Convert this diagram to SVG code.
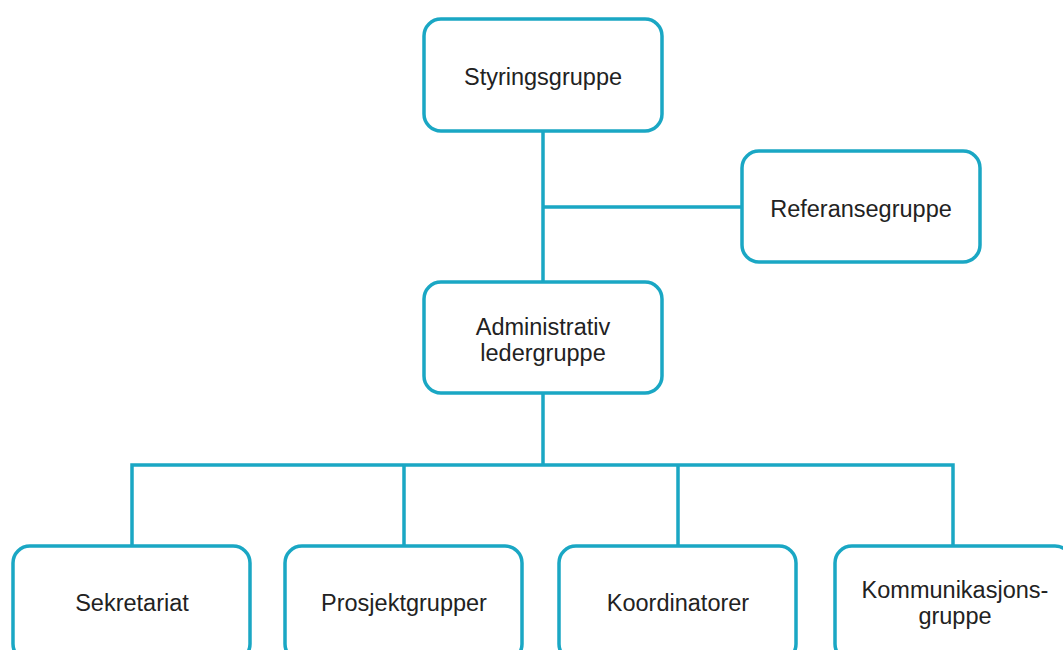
<svg xmlns="http://www.w3.org/2000/svg" width="1063" height="650" viewBox="0 0 1063 650">
<style>
.box{fill:#fff;stroke:#1aa7c4;stroke-width:3.5}
.ln{fill:none;stroke:#1aa7c4;stroke-width:3.5}
.t{font-family:"Liberation Sans",Arial,sans-serif;font-size:23.5px;fill:#222;text-anchor:middle}
</style>
<rect width="1063" height="650" fill="#fff"/>
<g id="connectors">
<path class="ln" d="M543 131V281M543 207H741M543 393V465M132 546V465H953V546M404 465V546M678 465V546"/>
</g>
<g id="styringsgruppe">
<rect class="box" x="424" y="19" width="238" height="112" rx="17"/>
<text class="t" x="543" y="85">Styringsgruppe</text>
</g>
<g id="referansegruppe">
<rect class="box" x="742" y="151" width="238" height="111" rx="17"/>
<text class="t" x="861" y="217">Referansegruppe</text>
</g>
<g id="administrativ">
<rect class="box" x="424" y="282" width="238" height="111" rx="17"/>
<text class="t" x="543" y="335">Administrativ</text>
<text class="t" x="543" y="361">ledergruppe</text>
</g>
<g id="sekretariat">
<rect class="box" x="13" y="546" width="237" height="115" rx="17"/>
<text class="t" x="132" y="611">Sekretariat</text>
</g>
<g id="prosjektgrupper">
<rect class="box" x="285" y="546" width="237" height="115" rx="17"/>
<text class="t" x="404" y="611">Prosjektgrupper</text>
</g>
<g id="koordinatorer">
<rect class="box" x="559" y="546" width="237" height="115" rx="17"/>
<text class="t" x="678" y="611">Koordinatorer</text>
</g>
<g id="kommunikasjonsgruppe">
<rect class="box" x="835" y="546" width="237" height="115" rx="17"/>
<text class="t" x="955" y="598">Kommunikasjons-</text>
<text class="t" x="955" y="624">gruppe</text>
</g>
</svg>
